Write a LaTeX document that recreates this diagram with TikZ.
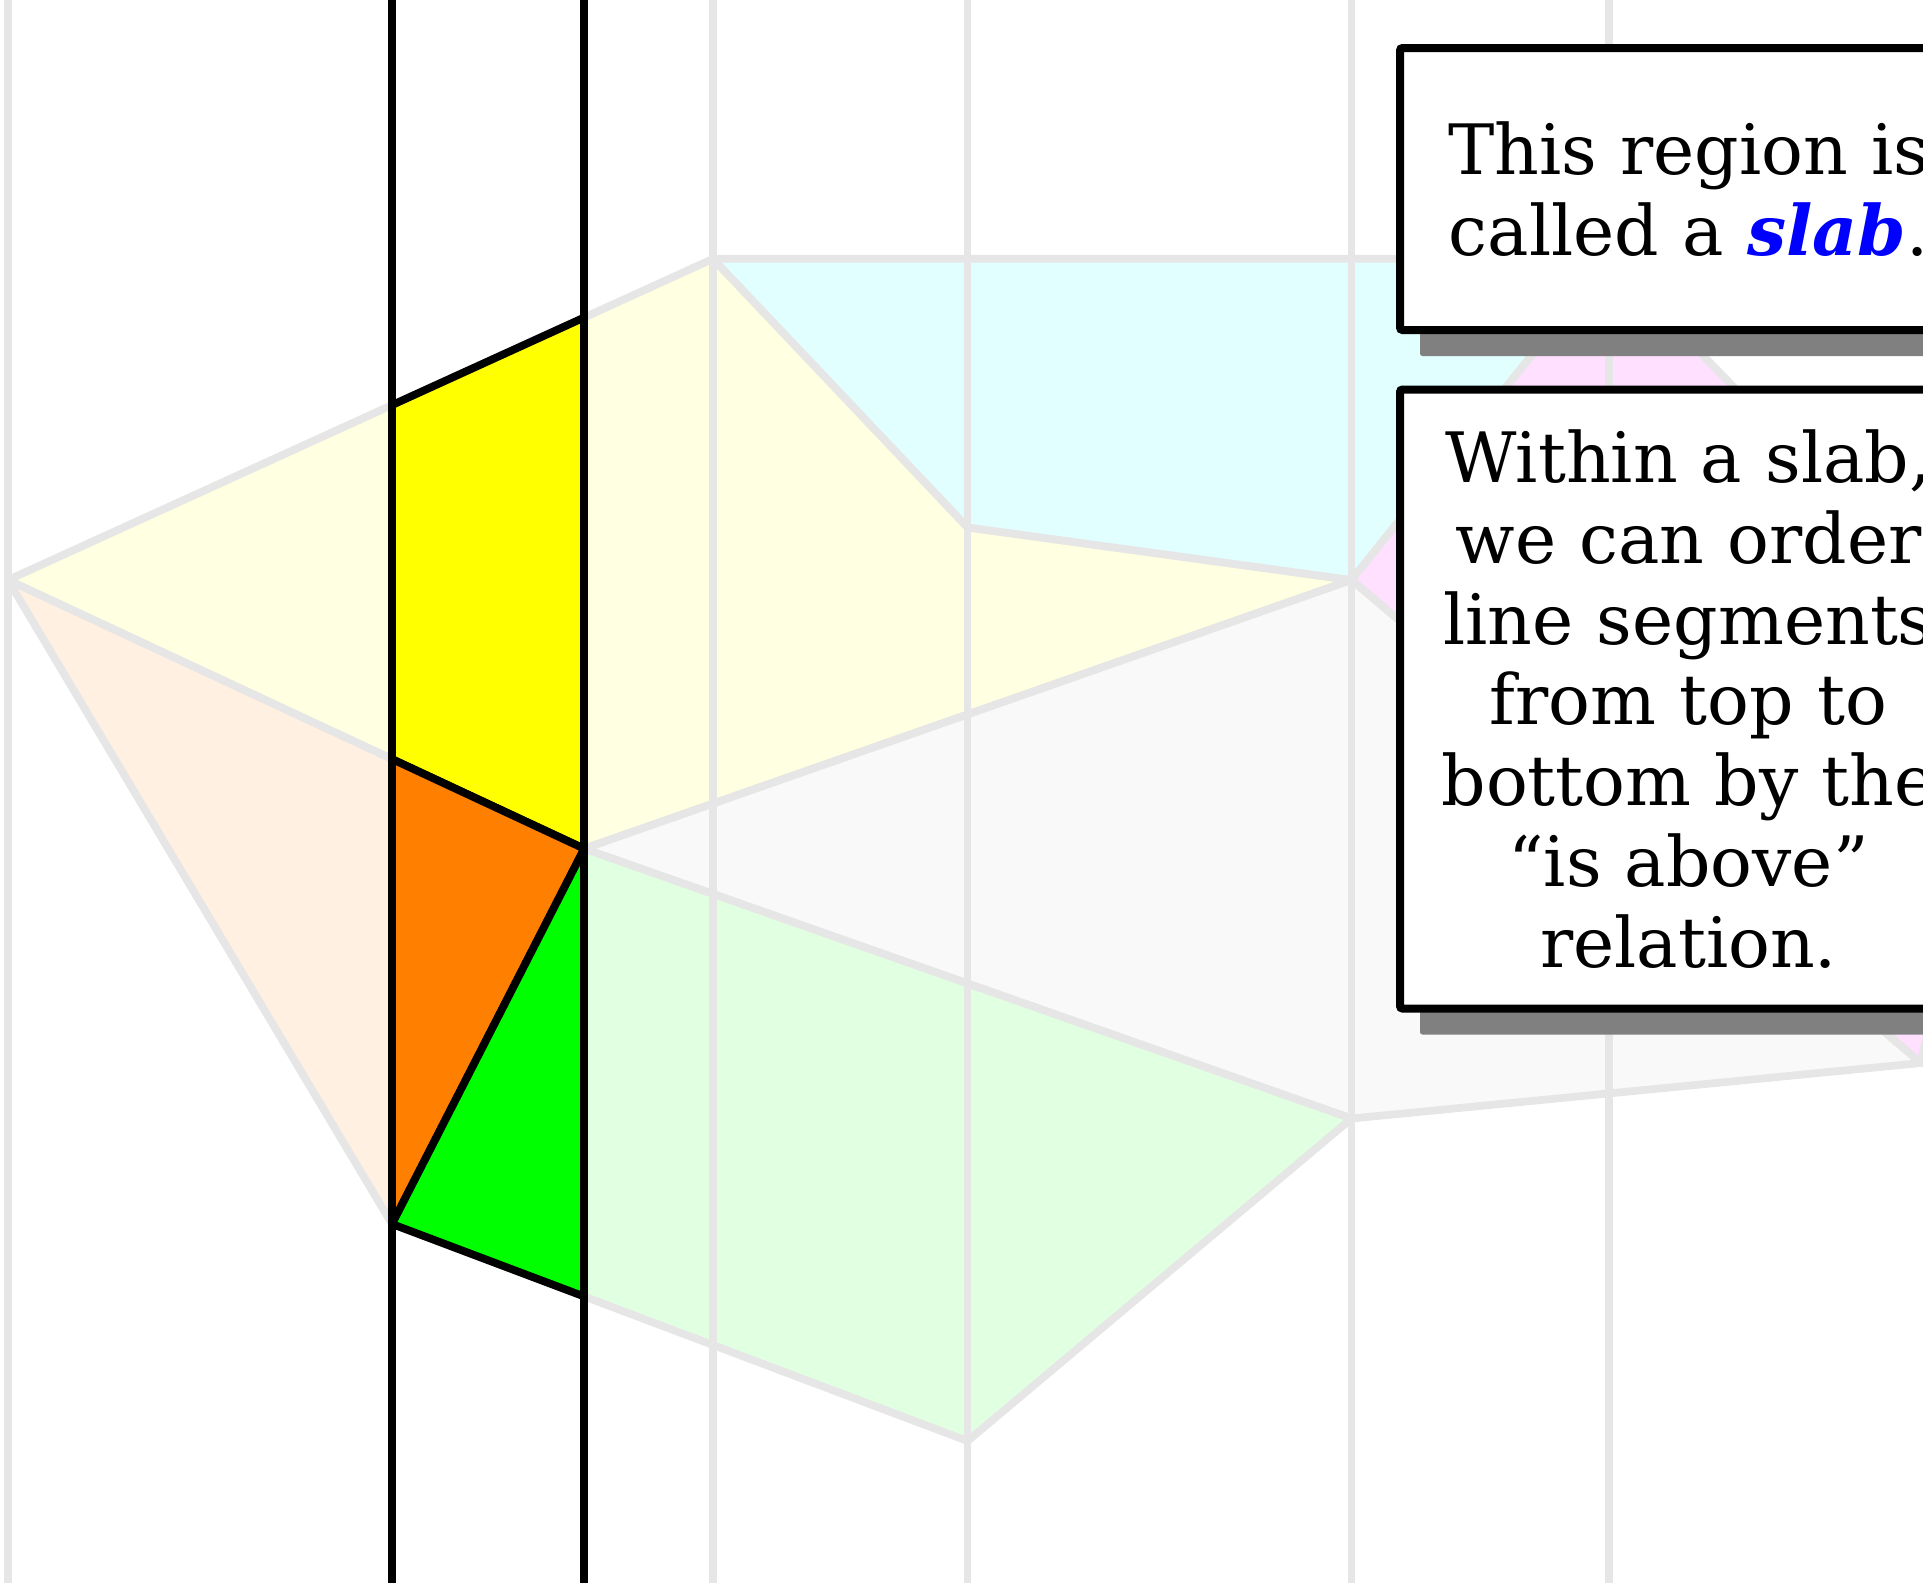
\documentclass[tikz,border=0pt]{standalone}
\usepackage{fontspec}
\setmainfont{DejaVu Serif}
\usepackage{tikz}
\usetikzlibrary{shadows}
\definecolor{edgeGray}{HTML}{E6E6E6}
\definecolor{shadeGray}{HTML}{808080}
\definecolor{regionYellow}{HTML}{FFFFE1}
\definecolor{regionCyan}{HTML}{E1FFFF}
\definecolor{regionPink}{HTML}{FFE1FF}
\definecolor{regionGray}{HTML}{F9F9F9}
\definecolor{regionGreen}{HTML}{E1FFE1}
\definecolor{regionPeach}{HTML}{FFF0E1}
\definecolor{slabYellow}{HTML}{FFFF00}
\definecolor{slabOrange}{HTML}{FF8000}
\definecolor{slabGreen}{HTML}{00FF00}
\definecolor{slabBlue}{HTML}{0000FF}
\newcommand{\notefont}{\fontsize{27.8pt}{32.3pt}\selectfont}
\newcommand{\slabmark}[1]{\textcolor{slabBlue}{\textbf{\textit{#1}}}}

\begin{document}
\begin{tikzpicture}[x=0.4pt, y=-0.4pt,
  region/.style={draw=edgeGray, line width=3.1pt, line join=round},
  sweep/.style={draw=black, line width=3.1pt, line join=round},
  note/.style={draw=black, fill=white, line width=3.2pt, rounded corners=1pt,
    minimum width=230.8pt, inner sep=0pt, text width=220pt, align=center,
    font=\notefont,
    drop shadow={shadow xshift=8pt, shadow yshift=-10.4pt,
      fill=shadeGray, opacity=1}}]
  \useasboundingbox (0,0) rectangle (1923,1588);
  \clip (0,0) rectangle (1923,1588);

  \coordinate (top) at (0,0);
  \coordinate (bot) at (0,1583);
  \coordinate (a) at (8,580);
  \coordinate (b) at (713,258.8);
  \coordinate (c) at (967.6,527.4);
  \coordinate (d) at (1351.5,580);
  \coordinate (e) at (584.2,848.7);
  \coordinate (f) at (392,1224);
  \coordinate (g) at (967.6,1441);
  \coordinate (h) at (1351.5,1118.5);
  \coordinate (i) at (1921,1063);
  \coordinate (p) at (1609,258.8);
  \coordinate (q) at (2000,661);

  \filldraw[region, fill=regionYellow] (a) -- (b) -- (c) -- (d) -- (e) -- cycle;
  \filldraw[region, fill=regionCyan] (b) -- (p) -- (d) -- (c) -- cycle;
  \filldraw[region, fill=regionPink] (p) -- (q) -- (i) -- (d) -- cycle;
  \filldraw[region, fill=regionGray] (d) -- (i) -- (h) -- (e) -- cycle;
  \filldraw[region, fill=regionGreen] (e) -- (h) -- (g) -- (f) -- cycle;
  \filldraw[region, fill=regionPeach] (a) -- (e) -- (f) -- cycle;

  \foreach \v in {a,b,c,d,p}
    \draw[region] (\v |- top) -- (\v |- bot);

  \begin{scope}
    \clip (f |- top) rectangle (e |- bot);
    \filldraw[sweep, fill=slabYellow] (a) -- (b) -- (c) -- (d) -- (e) -- cycle;
    \filldraw[sweep, fill=slabOrange] (a) -- (e) -- (f) -- cycle;
    \filldraw[sweep, fill=slabGreen] (e) -- (h) -- (g) -- (f) -- cycle;
  \end{scope}
  \foreach \v in {f,e}
    \draw[sweep] (\v |- top) -- (\v |- bot);

  \node[note, minimum height=112.8pt] (slabnote) at (1688.5,189)
    {This region is\\ called a \slabmark{slab}.};
  \node[note, minimum height=247.6pt] (ordernote) at (1688.5,699)
    {Within a slab,\\ we can order\\ line segments\\ from top to\\
     bottom by the\\ ``is above''\\ relation.};
\end{tikzpicture}
\end{document}
